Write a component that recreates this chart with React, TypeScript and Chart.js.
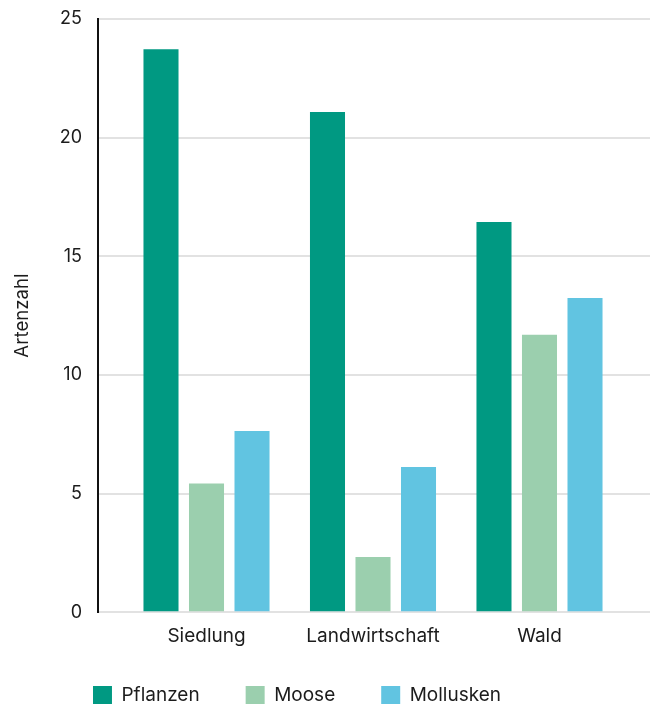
import React, { useEffect, useRef } from 'react';
import { Chart, registerables } from 'chart.js';

Chart.register(...registerables);

const categories = ['Siedlung', 'Landwirtschaft', 'Wald'];
const seriesNames = ['Pflanzen', 'Moose', 'Mollusken'];
const pflanzen = [23.73, 21.08, 16.44];
const moose = [5.42, 2.33, 11.69];
const mollusken = [7.64, 6.12, 13.24];
const yTicks = [0, 5, 10, 15, 20, 25];
const yTitle = 'Artenzahl';

const colors = ['#009982', '#9bcfae', '#61c4e1'];
const FONT = 'Inter, "Noto Sans", sans-serif';
const TEXT = '#1c1c1c';
const CANVAS_H = 736;

export default function App() {
  const ref = useRef<HTMLCanvasElement | null>(null);

  useEffect(() => {
    if (!ref.current) return;
    const series = [pflanzen, moose, mollusken];
    const legendShift = {
      id: 'legendShift',
      afterLayout(chart: any) {
        const lg = chart.legend;
        if (lg) {
          lg.left -= 28;
          lg.right -= 28;
          const dy = lg.top - 640;
          lg.top -= dy;
          lg.bottom -= dy;
        }
      },
    };
    const chart = new Chart(ref.current, {
      type: 'bar',
      data: {
        datasets: series.map((vals, si) => ({
          label: seriesNames[si],
          data: vals.map((v, i) => ({ x: i, y: v })),
          backgroundColor: colors[si],
          borderWidth: 0,
          categoryPercentage: 0.82,
          barPercentage: 0.77,
        })),
      },
      options: {
        responsive: false,
        animation: false,
        devicePixelRatio: 1,
        layout: { padding: { top: 19, left: 0, right: 0, bottom: 0 } },
        plugins: {
          tooltip: { enabled: false },
          legend: {
            position: 'bottom',
            labels: {
              boxWidth: 19,
              boxHeight: 19,
              padding: 46,
              color: TEXT,
              font: { family: FONT, size: 19 },
            },
          },
        },
        scales: {
          x: {
            type: 'linear',
            offset: false,
            min: -0.6517,
            max: 2.6637,
            grid: { display: false, drawTicks: false, offset: false },
            border: { display: false },
            afterBuildTicks: (axis: any) => {
              axis.ticks = categories.map((_, i) => ({ value: i }));
            },
            ticks: {
              padding: 13,
              color: TEXT,
              font: { family: FONT, size: 19 },
              callback: (v: any) => categories[Math.round(Number(v))] ?? '',
            },
          },
          y: {
            min: 0,
            max: 25,
            afterBuildTicks: (axis: any) => {
              axis.ticks = yTicks.map((v) => ({ value: v }));
            },
            afterFit: (scale: any) => {
              scale.width = 98;
            },
            grid: {
              color: '#e2e2e2',
              lineWidth: 2,
              drawTicks: true,
              tickLength: 16,
              tickColor: 'rgba(0,0,0,0)',
            },
            border: { display: true, color: '#111111', width: 2 },
            ticks: {
              padding: 0,
              color: TEXT,
              font: { family: FONT, size: 18 },
            },
            title: {
              display: true,
              text: yTitle,
              color: TEXT,
              padding: { top: 11, bottom: 0 },
              font: { family: FONT, size: 18.6 },
            },
          },
        },
      },
      plugins: [legendShift],
    } as any);
    return () => chart.destroy();
  }, []);

  return (
    <div style={{ position: 'fixed', left: 0, top: 0, width: 650, height: CANVAS_H, background: '#fff' }}>
      <canvas ref={ref} width={650} height={CANVAS_H} style={{ display: 'block' }} />
    </div>
  );
}
